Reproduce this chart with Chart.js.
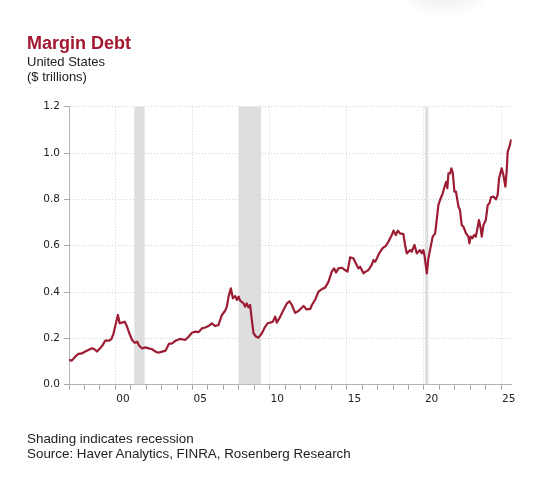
<!DOCTYPE html>
<html>
<head>
<meta charset="utf-8">
<script src="https://cdn.jsdelivr.net/npm/chart.js@4"></script>
<style>
  html, body { margin: 0; padding: 0; background: #fff; }
  body { width: 541px; height: 500px; position: relative; overflow: hidden; font-family: "Liberation Sans", Arial, sans-serif; }
  #c { position: absolute; left: 0; top: 0; }
  .t { position: absolute; left: 27px; white-space: nowrap; color: #222; }
  #title { top: 31.7px; font-size: 18px; line-height: 22px; font-weight: bold; color: #a3172f; }
  #sub1 { top: 53.7px; font-size: 13px; line-height: 16px; }
  #sub2 { top: 69.2px; font-size: 13px; line-height: 16px; }
  #foot1 { top: 431.2px; font-size: 13.4px; line-height: 16px; }
  #foot2 { top: 445.5px; font-size: 13.4px; line-height: 16px; }
  #shadow { position: absolute; left: 400px; top: -22px; width: 90px; height: 40px;
    background: radial-gradient(ellipse at center, rgba(0,0,0,0.06) 0%, rgba(0,0,0,0.025) 45%, rgba(0,0,0,0) 70%); }
</style>
</head>
<body>
<div id="shadow"></div>
<canvas id="c" width="541" height="500"></canvas>
<div class="t" id="title">Margin Debt</div>
<div class="t" id="sub1">United States</div>
<div class="t" id="sub2">($ trillions)</div>
<div class="t" id="foot1">Shading indicates recession</div>
<div class="t" id="foot2">Source: Haver Analytics, FINRA, Rosenberg Research</div>
<script>
// ---- data (decimal year, $ trillions) ----
const years = [
  1997.00,1997.18,1997.40,1997.61,1997.83,1998.05,1998.26,1998.48,1998.65,1998.81,
  1999.02,1999.18,1999.35,1999.57,1999.74,1999.89,2000.04,2000.17,2000.28,2000.43,
  2000.61,2000.76,2000.91,2001.09,2001.26,2001.41,2001.56,2001.74,2001.95,2002.17,
  2002.39,2002.60,2002.78,2003.04,2003.26,2003.47,2003.69,2003.91,2004.21,2004.53,
  2004.75,2004.97,2005.18,2005.40,2005.61,2005.83,2006.04,2006.26,2006.48,2006.69,
  2006.91,2007.12,2007.23,2007.34,2007.49,2007.62,2007.77,2007.88,2007.99,2008.09,
  2008.31,2008.42,2008.52,2008.63,2008.74,2008.85,2008.96,2009.13,2009.28,2009.50,
  2009.71,2009.87,2010.04,2010.21,2010.36,2010.47,2010.69,2010.90,2011.12,2011.29,
  2011.44,2011.66,2011.87,2012.20,2012.40,2012.63,2012.74,2012.95,2013.17,2013.39,
  2013.60,2013.82,2014.03,2014.18,2014.31,2014.46,2014.68,2014.89,2015.05,2015.22,
  2015.44,2015.61,2015.76,2015.87,2016.08,2016.23,2016.41,2016.62,2016.73,2016.84,
  2016.95,2017.10,2017.31,2017.53,2017.70,2017.92,2018.03,2018.18,2018.31,2018.46,
  2018.67,2018.78,2018.89,2019.11,2019.21,2019.39,2019.54,2019.75,2019.86,2019.97,
  2020.05,2020.19,2020.29,2020.44,2020.57,2020.73,2020.83,2020.94,2021.09,2021.22,
  2021.31,2021.44,2021.52,2021.59,2021.70,2021.78,2021.87,2021.98,2022.08,2022.24,
  2022.34,2022.45,2022.56,2022.73,2022.88,2022.95,2023.03,2023.14,2023.25,2023.36,
  2023.47,2023.57,2023.68,2023.75,2023.86,2024.01,2024.14,2024.25,2024.35,2024.50,
  2024.67,2024.78,2024.87,2025.04,2025.15,2025.28,2025.37,2025.43,2025.58,2025.65
];
const marginDebt = [
  0.107,0.104,0.121,0.133,0.135,0.143,0.150,0.157,0.153,0.143,
  0.157,0.171,0.190,0.190,0.196,0.222,0.265,0.301,0.265,0.268,
  0.272,0.251,0.222,0.193,0.181,0.186,0.167,0.157,0.161,0.157,
  0.153,0.143,0.138,0.143,0.147,0.176,0.178,0.190,0.198,0.193,
  0.207,0.224,0.229,0.227,0.243,0.247,0.253,0.265,0.253,0.258,
  0.301,0.319,0.337,0.380,0.416,0.373,0.383,0.366,0.380,0.363,
  0.351,0.337,0.351,0.334,0.344,0.279,0.222,0.207,0.203,0.222,
  0.250,0.265,0.268,0.272,0.294,0.268,0.294,0.322,0.351,0.360,
  0.344,0.310,0.318,0.340,0.325,0.327,0.344,0.366,0.402,0.413,
  0.419,0.445,0.488,0.502,0.484,0.502,0.505,0.495,0.488,0.550,
  0.545,0.521,0.502,0.509,0.481,0.488,0.495,0.517,0.538,0.531,
  0.545,0.567,0.588,0.599,0.617,0.646,0.665,0.646,0.665,0.653,
  0.650,0.603,0.567,0.581,0.574,0.603,0.567,0.581,0.567,0.581,
  0.553,0.480,0.545,0.596,0.639,0.653,0.711,0.776,0.805,0.826,
  0.848,0.876,0.848,0.912,0.912,0.934,0.915,0.833,0.833,0.768,
  0.754,0.689,0.682,0.653,0.639,0.610,0.639,0.632,0.646,0.639,
  0.675,0.711,0.675,0.639,0.689,0.711,0.776,0.783,0.809,0.812,
  0.800,0.819,0.890,0.934,0.905,0.855,0.927,1.006,1.035,1.059
];
const recessionStart = [2001.23, 2007.98, 2020.08];
const recessionEnd   = [2001.90, 2009.45, 2020.29];
const xTickYears  = [1997,1998,1999,2000,2001,2002,2003,2004,2005,2006,2007,2008,2009,2010,2011,
                     2012,2013,2014,2015,2016,2017,2018,2019,2020,2021,2022,2023,2024,2025];
const xLabelYears = [2000, 2005, 2010, 2015, 2020, 2025];
const xLabels     = ['00', '05', '10', '15', '20', '25'];
const yMin = 0, yMax = 1.2, yStep = 0.2;
const xMin = 1997, xMax = 2025.69;

// ---- chart ----
const recessionPlugin = {
  id: 'recessions',
  beforeDatasetsDraw(chart) {
    const { ctx, chartArea: a, scales: { x } } = chart;
    ctx.save();
    ctx.fillStyle = '#dedede';
    recessionStart.forEach((s, i) => {
      const x0 = x.getPixelForValue(s);
      const x1 = x.getPixelForValue(recessionEnd[i]);
      ctx.fillRect(x0, a.top, x1 - x0, a.bottom - a.top - 0.5);
    });
    ctx.restore();
  }
};

const zeroPad = (s) => { s.paddingTop = 0; s.paddingBottom = 0; s.paddingLeft = 0; s.paddingRight = 0; };

new Chart(document.getElementById('c'), {
  type: 'line',
  data: {
    datasets: [{
      data: years.map((yr, i) => ({ x: yr, y: marginDebt[i] })),
      borderColor: '#9c1c34',
      borderWidth: 2.2,
      pointRadius: 0,
      tension: 0,
      borderJoinStyle: 'round',
      fill: false
    }]
  },
  options: {
    responsive: false,
    animation: false,
    events: [],
    layout: { padding: { left: 20, right: 29.3, top: 106.7, bottom: 60 } },
    plugins: { legend: { display: false }, tooltip: { enabled: false }, title: { display: false } },
    scales: {
      x: {
        type: 'linear',
        min: xMin,
        max: xMax,
        afterBuildTicks: (scale) => { scale.ticks = xTickYears.map(v => ({ value: v })); },
        afterFit: (scale) => { scale.height = 500 - 384.7 - 60; zeroPad(scale); },
        ticks: {
          autoSkip: false,
          maxRotation: 0,
          minRotation: 0,
          labelOffset: 7.7,
          padding: 3,
          color: '#222',
          font: { family: '"DejaVu Sans", Verdana, sans-serif', size: 10.5 },
          callback: (v) => { const k = xLabelYears.indexOf(v); return k >= 0 ? xLabels[k] : ''; }
        },
        grid: {
          color: (ctx) => (ctx.tick && xLabelYears.includes(ctx.tick.value)) ? '#d2d2d2' : 'rgba(0,0,0,0)',
          tickColor: '#a8a8a8',
          tickLength: 5,
          lineWidth: 1
        },
        border: { display: true, color: '#b4b4b4', width: 1, dash: [1, 2] }
      },
      y: {
        type: 'linear',
        min: yMin,
        max: yMax,
        afterFit: (scale) => { scale.width = 49; zeroPad(scale); },
        ticks: {
          stepSize: yStep,
          padding: 4,
          color: '#222',
          font: { family: '"DejaVu Sans", Verdana, sans-serif', size: 10.5 },
          callback: (v) => Number(v).toFixed(1)
        },
        grid: {
          color: '#d2d2d2',
          tickColor: '#a8a8a8',
          tickLength: 5,
          lineWidth: 1
        },
        border: { display: true, color: '#b4b4b4', width: 1, dash: [1, 2] }
      }
    }
  },
  plugins: [recessionPlugin]
});
</script>
</body>
</html>
